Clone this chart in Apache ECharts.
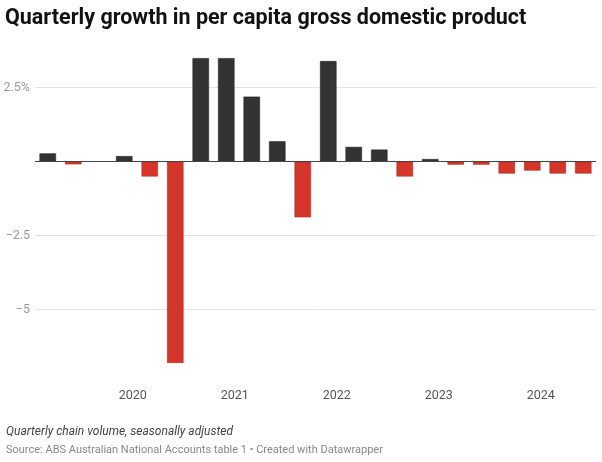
<!DOCTYPE html>
<html>
<head>
<meta charset="utf-8">
<script src="https://cdn.jsdelivr.net/npm/echarts@6/dist/echarts.min.js"></script>
<style>html,body{margin:0;padding:0;background:#fff}#c{width:602px;height:462px}</style>
</head>
<body>
<div id="c"></div>
<script>
// Quarter (end month) of each bar
const quarters = ['2019-03','2019-06','2019-09','2019-12','2020-03','2020-06','2020-09','2020-12',
  '2021-03','2021-06','2021-09','2021-12','2022-03','2022-06','2022-09','2022-12',
  '2023-03','2023-06','2023-09','2023-12','2024-03','2024-06'];
// Quarterly growth in per capita GDP, %
const growth = [0.28,-0.09,0.0,0.19,-0.5,-6.8,3.5,3.5,2.2,0.69,-1.88,3.4,0.5,0.41,-0.5,0.09,-0.1,-0.1,-0.4,-0.3,-0.4,-0.4];
const yearLabels = ['2020','2021','2022','2023','2024'];
const yTicks = [-7.5,-5,-2.5,0,2.5,5];

const baseYear = 2019;
function monthPos(q){const [y,m]=q.split('-').map(Number);return (y-baseYear)*12+(m-1);}
const yearPos = yearLabels.map(y=>(Number(y)-baseYear)*12);

const chart = echarts.init(document.getElementById('c'));
chart.setOption({
  animation:false,
  title:[
    {text:'Quarterly growth in per capita gross domestic product',left:5,top:6,padding:0,
     textStyle:{fontFamily:'Roboto',fontWeight:'bold',fontSize:21.5,color:'#111',lineHeight:26}},
    {text:'Quarterly chain volume, seasonally adjusted',left:6,top:424,padding:0,
     textStyle:{fontFamily:'Roboto',fontStyle:'italic',fontWeight:'normal',fontSize:12,color:'#444',lineHeight:15}},
    {text:'Source: ABS Australian National Accounts table 1 • Created with Datawrapper',left:6,top:443,padding:0,
     textStyle:{fontFamily:'Roboto',fontWeight:'normal',fontSize:11,color:'#888',lineHeight:14}}
  ],
  grid:{left:35,right:6,top:13.7,bottom:78.3},
  xAxis:{type:'value',min:0.5,max:66.5,
    axisLine:{show:false},axisTick:{show:false},splitLine:{show:false},
    axisLabel:{customValues:yearPos,formatter:v=>String(baseYear+Math.round(v/12)),
      fontFamily:'Roboto',fontSize:12.5,color:'#555',margin:6}},
  yAxis:{type:'value',min:yTicks[0],max:yTicks[yTicks.length-1],interval:2.5,
    axisLine:{show:false},axisTick:{show:false},
    splitLine:{show:true,showMinLine:false,showMaxLine:false,lineStyle:{color:'#e3e3e3',width:1}},
    axisLabel:{showMinLabel:false,showMaxLabel:false,fontFamily:'Roboto',fontSize:12.5,color:'#999',margin:5,
      formatter:v=>v===0?'':(v===2.5?'2.5%':String(v).replace('-','\u2212'))}},
  series:[{
    type:'bar',barWidth:16.5,
    data:quarters.map((q,i)=>({value:[monthPos(q),growth[i]],
      itemStyle:growth[i]<0?{color:'#d5362c',borderColor:'#b02a22',borderWidth:0.6}
        :(growth[i]===0?{color:'#333333',borderWidth:0}:{color:'#333333',borderColor:'#222',borderWidth:0.6})})),
    markLine:{silent:true,symbol:'none',label:{show:false},lineStyle:{color:'#444',width:1.2,type:'solid'},
      data:[{yAxis:0}]}
  }]
});
</script>
</body>
</html>
